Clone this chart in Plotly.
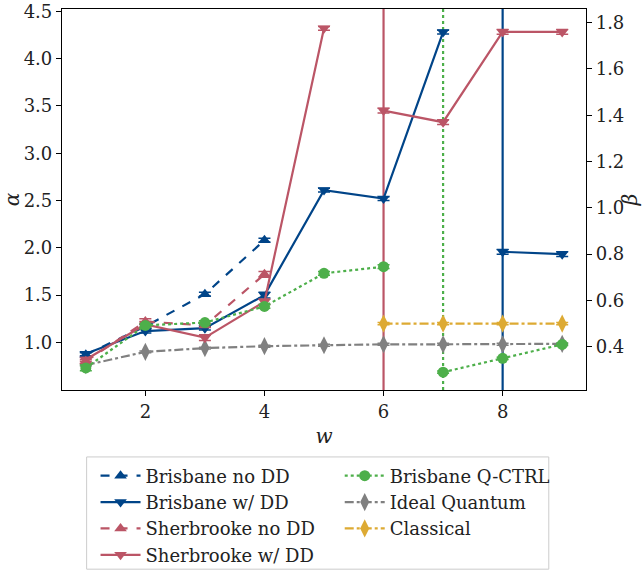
import plotly.graph_objects as go

# ---------------- data ----------------
W = [1, 2, 3, 4, 5, 6, 7, 8, 9]

bris_nodd_alpha = [0.87, 1.17, 1.51, 2.08, None, None, None, None, None]
bris_nodd_alpha_err = [0.02, 0.02, 0.02, 0.02, None, None, None, None, None]

bris_dd_alpha = [0.88, 1.12, 1.15, 1.50, 2.61, 2.52, 4.28, None, None]
bris_dd_alpha_err = [0.02, 0.02, 0.02, 0.03, 0.02, 0.02, 0.02, None, None]
bris_dd_beta = [None, None, None, None, None, None, None, 0.81, 0.80]
bris_dd_beta_err = [None, None, None, None, None, None, None, 0.01, 0.01]
bris_dd_switch = 8

sher_nodd_alpha = [0.80, 1.22, 1.18, 1.72, None, None, None, None, None]
sher_nodd_alpha_err = [0.02, 0.03, 0.02, 0.03, None, None, None, None, None]

sher_dd_alpha = [0.82, 1.19, 1.05, 1.43, 4.32, None, None, None, None]
sher_dd_alpha_err = [0.02, 0.03, 0.03, 0.03, 0.02, None, None, None, None]
sher_dd_beta = [None, None, None, None, None, 1.42, 1.37, 1.76, 1.76]
sher_dd_beta_err = [None, None, None, None, None, 0.01, 0.01, 0.01, 0.01]
sher_dd_switch = 6

qctrl_alpha = [0.73, 1.18, 1.21, 1.38, 1.73, 1.80, None, None, None]
qctrl_alpha_err = [0.03, 0.02, 0.02, 0.02, 0.02, 0.02, None, None, None]
qctrl_beta = [None, None, None, None, None, None, 0.29, 0.35, 0.41]
qctrl_beta_err = [None, None, None, None, None, None, 0.005, 0.005, 0.005]
qctrl_switch = 7

ideal_alpha = [0.76, 0.90, 0.94, 0.96, 0.97, 0.98, 0.98, 0.98, 0.985]
ideal_alpha_err = [0.01, 0.01, 0.01, 0.01, 0.01, 0.01, 0.01, 0.01, 0.01]

classical_beta = [None, None, None, None, None, 0.50, 0.50, 0.50, 0.50]
classical_beta_err = [None, None, None, None, None, 0.005, 0.005, 0.005, 0.005]

x_ticks = [2, 4, 6, 8]
alpha_ticks = [1.0, 1.5, 2.0, 2.5, 3.0, 3.5, 4.0, 4.5]
beta_ticks = [0.4, 0.6, 0.8, 1.0, 1.2, 1.4, 1.6, 1.8]

# ---------------- style ----------------
BLUE = "#004488"
RED = "#BB5566"
GREEN = "#4DAF4A"
GRAY = "#808080"
GOLD = "#DDAA33"
FONT = "DejaVu Serif"

fig = go.Figure()


def add(name, y, err, color, dash, symbol, axis, legend, show, msize=11, lw=2.2):
    fig.add_trace(go.Scatter(
        x=W, y=y, mode="lines+markers", name=name,
        legendgroup=name, showlegend=show, legend=legend,
        yaxis=axis,
        line=dict(color=color, width=lw, dash=dash),
        marker=dict(symbol=symbol, size=msize, color=color),
        error_y=dict(type="data", array=err, visible=True, color=color,
                     thickness=1.5, width=6),
    ))


add("Ideal Quantum", ideal_alpha, ideal_alpha_err, GRAY, "dashdot", "diamond-tall", "y", "legend2", True, 13)
add("Classical", classical_beta, classical_beta_err, GOLD, "dashdot", "diamond-tall", "y2", "legend2", True, 13)
add("Brisbane no DD", bris_nodd_alpha, bris_nodd_alpha_err, BLUE, "dash", "triangle-up", "y", "legend", True)
add("Brisbane w/ DD", bris_dd_alpha, bris_dd_alpha_err, BLUE, "solid", "triangle-down", "y", "legend", True)
add("Brisbane w/ DD", bris_dd_beta, bris_dd_beta_err, BLUE, "solid", "triangle-down", "y2", "legend", False)
add("Sherbrooke no DD", sher_nodd_alpha, sher_nodd_alpha_err, RED, "dash", "triangle-up", "y", "legend", True)
add("Sherbrooke w/ DD", sher_dd_alpha, sher_dd_alpha_err, RED, "solid", "triangle-down", "y", "legend", True)
add("Sherbrooke w/ DD", sher_dd_beta, sher_dd_beta_err, RED, "solid", "triangle-down", "y2", "legend", False)
add("Brisbane Q-CTRL", qctrl_alpha, qctrl_alpha_err, GREEN, "dot", "circle", "y", "legend2", True, 11)
add("Brisbane Q-CTRL", qctrl_beta, qctrl_beta_err, GREEN, "dot", "circle", "y2", "legend2", False, 11)

# legend ordering
order = {"Brisbane no DD": 1, "Brisbane w/ DD": 2, "Sherbrooke no DD": 3,
         "Sherbrooke w/ DD": 4, "Brisbane Q-CTRL": 5, "Ideal Quantum": 6,
         "Classical": 7}
for tr in fig.data:
    tr.legendrank = order[tr.name]

# switch lines (alpha -> beta)
for xs, col, dash in [(sher_dd_switch, RED, "solid"), (qctrl_switch, GREEN, "dot"),
                      (bris_dd_switch, BLUE, "solid")]:
    fig.add_shape(type="line", xref="x", yref="paper", x0=xs, x1=xs, y0=0, y1=1,
                  line=dict(color=col, width=2.2, dash=dash), layer="below")

# legend frame
fig.add_shape(type="rect", xref="paper", yref="paper", x0=0.047, x1=0.929,
              y0=-0.4703, y1=-0.1757, line=dict(color="#CCCCCC", width=1))

axis_common = dict(showline=True, linecolor="black", linewidth=1.2, ticks="outside",
                   ticklen=5, tickcolor="black", showgrid=False, zeroline=False,
                   ticklabeloverflow="allow", automargin=False,
                   tickfont=dict(family=FONT, size=18, color="#222"))

fig.update_layout(
    template="none",
    width=642, height=582,
    margin=dict(l=62, r=56, t=9, b=186),
    paper_bgcolor="white", plot_bgcolor="white",
    font=dict(family=FONT, size=18, color="#222"),
    showlegend=True,
    xaxis=dict(range=[0.6, 9.4], tickvals=x_ticks, mirror=True,
               title=dict(text="<i>w</i>", font=dict(family=FONT, size=20), standoff=8),
               **axis_common),
    yaxis=dict(range=[0.497, 4.524], tickvals=alpha_ticks, tickformat=".1f",
               title=dict(text="<i>α</i>", font=dict(family=FONT, size=20), standoff=6),
               **axis_common),
    yaxis2=dict(range=[0.213, 1.859], tickvals=beta_ticks, tickformat=".1f",
                overlaying="y", side="right",
                title=dict(text="<i>β</i>", font=dict(family=FONT, size=20), standoff=6),
                **axis_common),
    legend=dict(x=0.064, y=-0.177, xanchor="left", yanchor="top", bgcolor="rgba(0,0,0,0)",
                font=dict(family=FONT, size=18), tracegroupgap=0, itemwidth=40),
    legend2=dict(x=0.53, y=-0.177, xanchor="left", yanchor="top", bgcolor="rgba(0,0,0,0)",
                 font=dict(family=FONT, size=18), tracegroupgap=0, itemwidth=40),
)

fig.write_html("out.html")
